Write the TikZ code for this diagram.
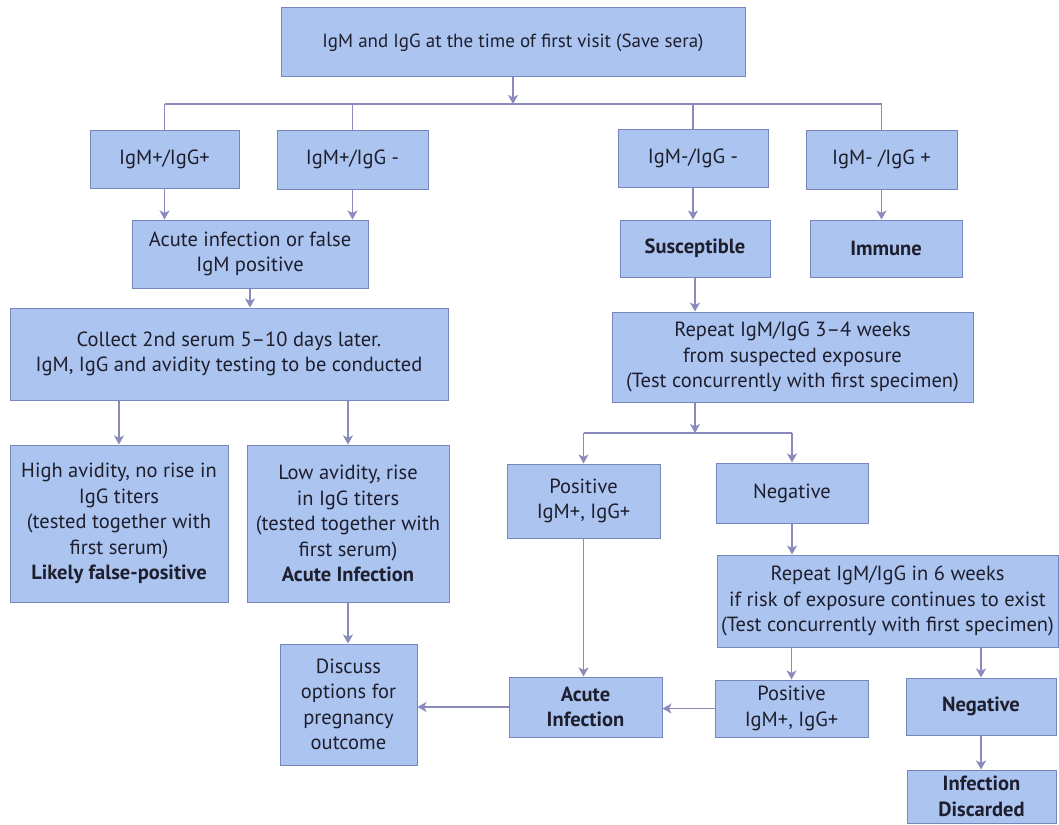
\documentclass[tikz,border=0pt]{standalone}
\usepackage{fontspec}
\setmainfont{PT Sans}
\usetikzlibrary{arrows.meta}
\definecolor{boxfill}{RGB}{172,196,240}
\definecolor{boxline}{RGB}{120,132,190}
\definecolor{connc}{RGB}{138,138,188}
\definecolor{txt}{RGB}{30,30,45}
\begin{document}
\begin{tikzpicture}[x=1pt,y=-1pt,
  box/.style={draw=boxline, fill=boxfill, line width=1pt, text=txt, align=center,
    inner sep=0pt, font=\fontsize{20.5}{25.5}\selectfont},
  conn/.style={draw=connc, line width=1.4pt},
  arr/.style={conn, -{Stealth[length=9pt,width=10pt,inset=2.5pt]}}]
\useasboundingbox[fill=white] (0,0) rectangle (1059,824);

% nodes
\node[box, font=\fontsize{19}{24}\selectfont, minimum width=464pt, minimum height=69pt] (top) at (513,42.5) {IgM and IgG at the time of first visit (Save sera)};
\node[box, minimum width=149pt, minimum height=58pt] (a1) at (164.5,159) {IgM+/IgG+};
\node[box, minimum width=151pt, minimum height=59pt] (a2) at (352.5,159.5) {IgM+/IgG -};
\node[box, minimum width=150pt, minimum height=58pt] (a3) at (693,158.5) {IgM-/IgG -};
\node[box, minimum width=151pt, minimum height=59pt] (a4) at (881.5,159.5) {IgM- /IgG +};
\node[box, minimum width=236pt, minimum height=68pt] (acute1) at (250,254) {Acute infection or false\\IgM positive};
\node[box, minimum width=150pt, minimum height=57pt] (susc) at (695,248.5) {\bfseries Susceptible};
\node[box, minimum width=152pt, minimum height=57pt] (immune) at (886,248.5) {\bfseries Immune};
\node[box, minimum width=438pt, minimum height=92pt] (collect) at (229,354) {Collect 2nd serum 5--10 days later.\\IgM, IgG and avidity testing to be conducted};
\node[box, minimum width=361pt, minimum height=90pt] (rep1) at (792.5,357) {Repeat IgM/IgG 3--4 weeks\\from suspected exposure\\(Test concurrently with first specimen)};
\node[box, minimum width=218pt, minimum height=157pt] (high) at (119,523.5) {High avidity, no rise in\\IgG titers\\(tested together with\\first serum)\\\bfseries Likely false-positive};
\node[box, minimum width=202pt, minimum height=157pt] (low) at (348,523.5) {Low avidity, rise\\in IgG titers\\(tested together with\\first serum)\\\bfseries Acute Infection};
\node[box, minimum width=153pt, minimum height=74pt] (pos1) at (583.5,501) {Positive\\IgM+, IgG+};
\node[box, minimum width=152pt, minimum height=60pt] (neg1) at (792,493) {Negative};
\node[box, minimum width=341pt, minimum height=92pt] (rep2) at (887.5,601) {Repeat IgM/IgG in 6 weeks\\if risk of exposure continues to exist\\(Test concurrently with first specimen)};
\node[box, minimum width=137pt, minimum height=121pt] (disc) at (348.5,704.5) {Discuss\\options for\\pregnancy\\outcome};
\node[box, minimum width=153pt, minimum height=60pt] (acute2) at (585.5,707) {\bfseries Acute\\\bfseries Infection};
\node[box, minimum width=153pt, minimum height=57pt] (pos2) at (791.5,708.5) {Positive\\IgM+, IgG+};
\node[box, minimum width=150pt, minimum height=57pt] (neg2) at (981,706.5) {\bfseries Negative};
\node[box, minimum width=149pt, minimum height=53pt] (disc2) at (981.5,796.5) {\bfseries Infection\\\bfseries Discarded};

% split points
\coordinate (s1) at (513,104);
\coordinate (s2) at (695,433);

% connectors
\draw[arr] (top.south) -- (s1);
\draw[conn] (a1.north |- s1) -- (a4.north |- s1);
\draw[conn] (a1.north |- s1) -- (a1.north);
\draw[conn] (a2.north |- s1) -- (a2.north);
\draw[conn] (a3.north |- s1) -- (a3.north);
\draw[conn] (a4.north |- s1) -- (a4.north);
\draw[arr] (a1.south) -- (a1.south |- acute1.north);
\draw[arr] (a2.south) -- (a2.south |- acute1.north);
\draw[arr] (a3.south) -- (a3.south |- susc.north);
\draw[arr] (a4.south) -- (a4.south |- immune.north);
\draw[arr] (acute1.south) -- (acute1.south |- collect.north);
\draw[arr] (high.north |- collect.south) -- (high.north);
\draw[arr] (low.north |- collect.south) -- (low.north);
\draw[arr] (low.south) -- (low.south |- disc.north);
\draw[arr] (susc.south) -- (susc.south |- rep1.north);
\draw[arr] (rep1.south -| s2) -- (s2);
\draw[conn] (pos1.north |- s2) -- (neg1.north |- s2);
\draw[arr] (pos1.north |- s2) -- (pos1.north);
\draw[arr] (neg1.north |- s2) -- (neg1.north);
\draw[arr] (neg1.south) -- (neg1.south |- rep2.north);
\draw[arr] (pos2.north |- rep2.south) -- (pos2.north);
\draw[arr] (neg2.north |- rep2.south) -- (neg2.north);
\draw[arr] (neg2.south) -- (neg2.south |- disc2.north);
\draw[arr] (pos1.south) -- (pos1.south |- acute2.north);
\draw[arr] (pos2.west) -- (pos2.west -| acute2.east);
\draw[arr] (acute2.west) -- (acute2.west -| disc.east);
\end{tikzpicture}
\end{document}
